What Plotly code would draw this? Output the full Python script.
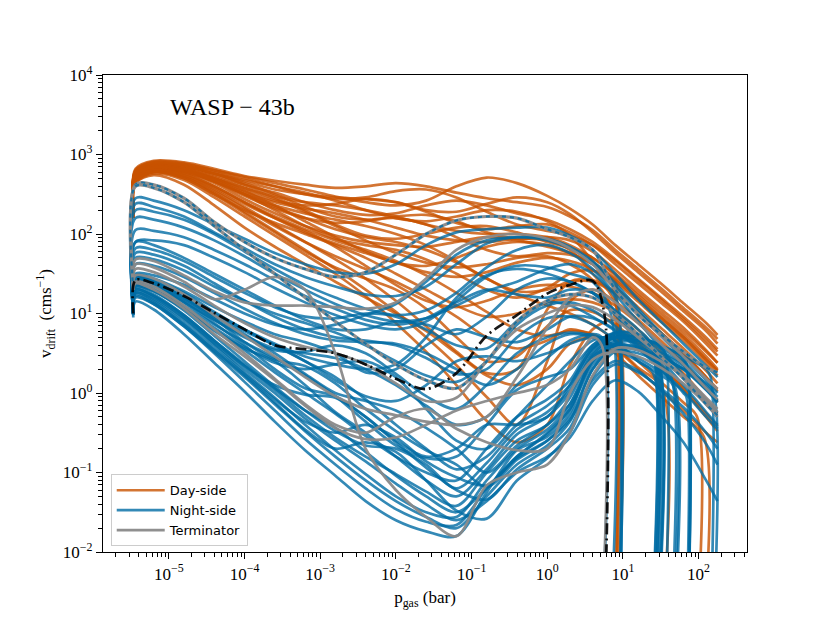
import numpy as np
import plotly.graph_objects as go

log_p = [-5.47, -5.44, -5.2, -4.8, -4.4, -4.0, -3.6, -3.2, -2.8, -2.4, -2.0,
         -1.6, -1.2, -0.8, -0.4, 0.0, 0.3, 0.6, 0.9, 1.2, 1.5, 1.8, 2.1, 2.25]

# decade exponents labelled on each axis
x_decades = [-5, -4, -3, -2, -1, 0, 1, 2]
y_decades = [-2, -1, 0, 1, 2, 3, 4]

# log10 v_drift [cm/s]; shorter rows end in a drop to zero at (log p, log v) given in *_cut
day_v = [
    [2.40, 2.80, 2.90, 2.88, 2.80, 2.72, 2.64, 2.56, 2.47, 2.40, 2.36, 2.42, 2.60, 2.71, 2.64, 2.48, 2.32, 2.12, 1.86, 1.62, 1.38, 1.13, 0.88, 0.73],
    [2.40, 2.82, 2.92, 2.90, 2.82, 2.73, 2.67, 2.62, 2.58, 2.60, 2.64, 2.60, 2.52, 2.45, 2.40, 2.34, 2.22, 2.05, 1.80, 1.56, 1.32, 1.07, 0.82, 0.68],
    [2.35, 2.78, 2.88, 2.87, 2.78, 2.66, 2.56, 2.50, 2.46, 2.44, 2.40, 2.30, 2.28, 2.38, 2.46, 2.40, 2.25, 2.02, 1.76, 1.52, 1.28, 1.03, 0.78, 0.62],
    [2.30, 2.76, 2.86, 2.84, 2.74, 2.62, 2.52, 2.40, 2.30, 2.24, 2.26, 2.36, 2.42, 2.36, 2.26, 2.18, 2.06, 1.90, 1.68, 1.44, 1.20, 0.96, 0.70, 0.55],
    [2.30, 2.75, 2.85, 2.82, 2.70, 2.55, 2.42, 2.36, 2.38, 2.44, 2.40, 2.28, 2.14, 2.06, 2.10, 2.12, 2.02, 1.86, 1.62, 1.38, 1.14, 0.90, 0.62, 0.47],
    [2.30, 2.74, 2.84, 2.80, 2.66, 2.48, 2.32, 2.20, 2.14, 2.16, 2.22, 2.24, 2.16, 2.02, 1.94, 1.96, 1.92, 1.78, 1.55, 1.30, 1.06, 0.82, 0.54, 0.38],
    [2.30, 2.72, 2.83, 2.80, 2.70, 2.58, 2.46, 2.30, 2.12, 1.98, 1.94, 2.00, 2.08, 2.10, 2.02, 1.90, 1.82, 1.70, 1.48, 1.23, 0.98, 0.74, 0.46, 0.30],
    [2.25, 2.70, 2.82, 2.78, 2.64, 2.44, 2.26, 2.10, 1.98, 1.90, 1.86, 1.84, 1.90, 1.96, 1.92, 1.84, 1.76, 1.62, 1.40, 1.15, 0.90, 0.66, 0.38, 0.22],
    [2.25, 2.70, 2.80, 2.76, 2.60, 2.40, 2.20, 2.02, 1.88, 1.76, 1.64, 1.52, 1.46, 1.52, 1.64, 1.70, 1.66, 1.55, 1.33, 1.08, 0.82, 0.56, 0.28, 0.12],
    [2.25, 2.68, 2.80, 2.74, 2.56, 2.34, 2.12, 1.90, 1.68, 1.44, 1.16, 0.84, 0.52, 0.25, 0.30, 1.05, 1.40, 1.42, 1.26, 1.02, 0.76, 0.50, 0.20, 0.02],
    [2.20, 2.66, 2.78, 2.72, 2.52, 2.28, 2.04, 1.80, 1.56, 1.30, 1.02, 0.70, 0.35, -0.05, -0.40, 0.40, 1.15, 1.30, 1.15, 0.92, 0.66, 0.38, 0.06, -0.12],
    [2.20, 2.66, 2.78, 2.70, 2.50, 2.30, 2.14, 2.00, 1.86, 1.70, 1.50, 1.30, 1.10, 0.96, 1.00, 1.14, 1.18, 1.14, 1.02, 0.80, 0.52, 0.25, -0.08, -0.25],
    [2.20, 2.64, 2.76, 2.68, 2.46, 2.22, 1.98, 1.74, 1.50, 1.22, 0.88, 0.52, 0.10, -0.35, -0.62, -0.40, 0.35, 0.80, 0.92, 0.66, 0.36, 0.05, -0.30, -0.48],
    [2.35, 2.78, 2.88, 2.85, 2.76, 2.68, 2.60, 2.52, 2.42, 2.30, 2.20, 2.16, 2.22, 2.30, 2.28, 2.16, 1.98, 1.66],
    [2.30, 2.74, 2.84, 2.80, 2.68, 2.52, 2.40, 2.32, 2.26, 2.18, 2.08, 1.98, 1.92, 1.90, 1.94, 1.92, 1.80, 1.50],
    [2.25, 2.70, 2.82, 2.76, 2.60, 2.40, 2.22, 2.06, 1.92, 1.80, 1.66, 1.48, 1.26, 1.02, 0.80, 0.72, 0.78, 0.74, 0.58, 0.32],
    [2.30, 2.72, 2.82, 2.78, 2.66, 2.50, 2.34, 2.20, 2.06, 1.96, 1.90, 1.80, 1.64, 1.44, 1.24, 1.10, 1.00, 0.86, 0.66, 0.40, 0.14, -0.12],
    [2.20, 2.66, 2.78, 2.72, 2.54, 2.32, 2.10, 1.90, 1.72, 1.56, 1.40, 1.20, 0.96, 0.70, 0.56, 0.66, 0.80, 0.72, 0.50, 0.22, -0.04, -0.30],
    [2.35, 2.80, 2.91, 2.89, 2.80, 2.70, 2.60, 2.50, 2.44, 2.46, 2.54, 2.56, 2.46, 2.28, 2.12, 2.04, 1.98, 1.86, 1.66, 1.42, 1.18, 0.93, 0.66, 0.52],
    [2.30, 2.76, 2.87, 2.85, 2.76, 2.64, 2.50, 2.34, 2.22, 2.18, 2.20, 2.12, 1.96, 1.80, 1.72, 1.76, 1.74, 1.64, 1.44, 1.20, 0.95, 0.70, 0.42, 0.28],
    [2.25, 2.72, 2.83, 2.79, 2.66, 2.50, 2.36, 2.26, 2.18, 2.10, 2.00, 1.86, 1.66, 1.44, 1.28, 1.30, 1.40, 1.40, 1.25, 1.01, 0.76, 0.50, 0.20, 0.05],
    [2.30, 2.78, 2.89, 2.86, 2.76, 2.62, 2.48, 2.40, 2.36, 2.30, 2.22, 2.12, 2.04, 2.00, 2.00, 1.96, 1.86, 1.70, 1.50, 1.26, 1.02, 0.78, 0.52, 0.38],
    [2.20, 2.64, 2.74, 2.62, 2.36, 2.08, 1.84, 1.62, 1.40, 1.20, 1.00, 0.78, 0.50, 0.22, 0.10, 0.30, 0.62, 0.70, 0.56, 0.30, 0.04, -0.22, -0.50, -0.62],
    [2.30, 2.74, 2.85, 2.82, 2.72, 2.58, 2.44, 2.28, 2.10, 1.92, 1.76, 1.64, 1.58, 1.62, 1.70, 1.72, 1.62, 1.42],
    [2.30, 2.76, 2.86, 2.82, 2.70, 2.54, 2.36, 2.16, 1.96, 1.78, 1.64, 1.60, 1.70, 1.84, 1.90, 1.86, 1.76, 1.62, 1.42, 1.18, 0.94, 0.70, 0.42, 0.28],
    [2.25, 2.70, 2.80, 2.74, 2.58, 2.38, 2.20, 2.04, 1.84, 1.60, 1.36, 1.16, 1.08, 1.16, 1.30, 1.36, 1.34, 1.26, 1.10, 0.88, 0.62, 0.36, 0.06, -0.10],
    [2.30, 2.74, 2.84, 2.80, 2.68, 2.50, 2.30, 2.10, 1.94, 1.86, 1.80, 1.68, 1.50, 1.30, 1.20, 1.32, 1.50, 1.54, 1.40],
    [2.20, 2.66, 2.78, 2.70, 2.50, 2.26, 2.02, 1.78, 1.58, 1.44, 1.30, 1.06, 0.70, 0.40, 0.46, 0.84, 1.04, 1.02, 0.86, 0.62, 0.34, 0.06, -0.26, -0.42],
]
day_cut = [None] * 13 + [(0.86, 1.35), (0.91, 1.10), (1.52, 0.05), (1.98, -0.30), (2.07, -0.55)] \
          + [None] * 5 + [(0.88, 1.00), None, None, (0.92, 1.20), None]

night_v = [
    [1.10, 2.45, 2.42, 2.30, 2.12, 1.94, 1.76, 1.62, 1.52, 1.50, 1.62, 1.86, 2.02, 2.06, 2.08, 2.08, 1.98, 1.80, 1.50, 1.18, 0.90, 0.62, 0.34, 0.20],
    [1.10, 2.38, 2.34, 2.22, 2.02, 1.82, 1.62, 1.46, 1.34, 1.24, 1.22, 1.34, 1.62, 1.88, 1.96, 1.94, 1.84, 1.66, 1.38, 1.06, 0.76, 0.46, 0.16, 0.00],
    [1.05, 2.30, 2.28, 2.18, 2.00, 1.78, 1.56, 1.36, 1.20, 1.06, 0.98, 1.04, 1.26, 1.58, 1.80, 1.86, 1.76, 1.56, 1.24, 0.90, 0.56, 0.22, -0.14, -0.30],
    [1.05, 2.20, 2.18, 2.08, 1.92, 1.72, 1.50, 1.30, 1.12, 0.98, 0.90, 0.94, 1.10, 1.28, 1.40, 1.56, 1.62, 1.50, 1.20],
    [1.00, 2.05, 2.04, 1.96, 1.80, 1.62, 1.42, 1.22, 1.06, 0.92, 0.86, 0.94, 1.14, 1.30, 1.24, 1.20, 1.30, 1.26, 1.02, 0.72, 0.42, 0.10, -0.24, -0.40],
    [1.00, 1.90, 1.92, 1.86, 1.70, 1.52, 1.32, 1.14, 0.98, 0.86, 0.80, 0.90, 1.16, 1.46, 1.60, 1.58, 1.50, 1.40],
    [1.00, 1.90, 1.86, 1.70, 1.50, 1.30, 1.10, 0.92, 0.80, 0.80, 0.90, 0.86, 0.74, 0.96, 1.30, 1.44, 1.40, 1.26, 0.98, 0.70],
    [1.00, 1.82, 1.80, 1.66, 1.46, 1.26, 1.08, 0.96, 0.94, 1.00, 0.96, 0.80, 0.60, 0.56, 0.90, 1.14, 1.10, 0.96, 0.78, 0.56, 0.30, 0.02, -0.30, -0.45],
    [1.00, 1.76, 1.74, 1.60, 1.38, 1.16, 0.96, 0.80, 0.70, 0.66, 0.60, 0.44, 0.24, 0.30, 0.70, 0.94, 0.96, 0.86, 0.66, 0.40],
    [1.00, 1.70, 1.68, 1.54, 1.34, 1.16, 1.00, 0.88, 0.76, 0.60, 0.40, 0.22, 0.14, 0.40, 0.86, 1.10, 1.14, 1.04, 0.84, 0.58, 0.30, 0.00],
    [1.00, 1.62, 1.60, 1.46, 1.26, 1.06, 0.88, 0.74, 0.66, 0.64, 0.62, 0.50, 0.30, 0.10, 0.30, 0.62, 0.74, 0.70, 0.56, 0.40, 0.22],
    [0.95, 1.15, 1.05, 0.74, 0.38, 0.02, -0.36, -0.72, -1.04, -1.36, -1.60, -1.74, -1.80, -1.25, -0.72, -0.55, -0.25, 0.48, 0.70, 0.66],
    [0.98, 1.20, 1.12, 0.84, 0.50, 0.14, -0.22, -0.58, -0.90, -1.20, -1.46, -1.62, -1.66, -1.20, -0.80, -0.52, -0.20, 0.40, 0.62, 0.56, 0.46, 0.30, 0.04, -0.10],
    [1.00, 1.26, 1.18, 0.92, 0.60, 0.26, -0.06, -0.40, -0.72, -1.02, -1.30, -1.50, -1.56, -1.10, -0.70, -0.46, -0.14, 0.44, 0.70, 0.70, 0.58],
    [1.00, 1.30, 1.22, 0.98, 0.66, 0.34, 0.04, -0.28, -0.56, -0.80, -1.02, -1.24, -1.42, -1.00, -0.60, -0.40, -0.06, 0.50, 0.72, 0.70, 0.60, 0.44],
    [1.00, 1.34, 1.28, 1.04, 0.72, 0.40, 0.08, -0.22, -0.48, -0.66, -0.70, -0.90, -1.20, -0.88, -0.46, -0.24, 0.04, 0.54, 0.76, 0.74],
    [1.00, 1.38, 1.30, 1.06, 0.78, 0.56, 0.40, 0.10, -0.24, -0.50, -0.80, -1.10, -1.30, -0.96, -0.52, -0.30, 0.00, 0.46, 0.60, 0.54, 0.40, 0.20, -0.10, -0.25],
    [1.05, 1.42, 1.36, 1.14, 0.88, 0.60, 0.30, 0.06, -0.04, -0.30, -0.62, -0.94, -1.22, -1.34, -0.96, -0.70, -0.44, 0.20, 0.52, 0.50, 0.36],
    [1.05, 1.46, 1.40, 1.20, 0.94, 0.64, 0.42, 0.34, 0.12, -0.20, -0.48, -0.72, -0.90, -1.18, -0.84, -0.60, -0.30, 0.30, 0.62, 0.64],
    [1.00, 1.45, 1.42, 1.26, 1.02, 0.80, 0.60, 0.40, 0.20, -0.08, -0.40, -0.70, -0.96, -0.80, -0.40, -0.16, 0.10, 0.56, 0.74],
    [0.98, 1.40, 1.36, 1.18, 0.96, 0.74, 0.50, 0.24, 0.00, -0.10, -0.22, -0.44, -0.70, -1.00, -0.66, -0.40, -0.14, 0.40, 0.66, 0.66, 0.56, 0.40, 0.10, -0.05],
    [0.98, 1.24, 1.14, 0.86, 0.54, 0.22, -0.12, -0.46, -0.70, -0.62, -0.74, -1.10, -1.48, -1.58, -1.10, -0.82, -0.50, 0.10, 0.36, 0.26, 0.06, -0.18, -0.50, -0.70],
    [1.00, 1.32, 1.24, 0.98, 0.66, 0.36, 0.06, -0.22, -0.44, -0.74, -1.04, -1.30, -1.50, -1.20, -0.82, -0.60, -0.34, 0.16, 0.40, 0.28, 0.04, -0.26, -0.64, -0.90],
    [1.00, 1.28, 1.20, 0.94, 0.62, 0.30, 0.00, -0.32, -0.60, -0.86, -1.14, -1.40, -1.60, -1.36, -1.00, -0.80, -0.56, -0.10, 0.16, 0.02, -0.28, -0.62, -1.10, -1.36],
    [1.00, 1.36, 1.30, 1.10, 0.86, 0.64, 0.44, 0.22, -0.04, -0.36, -0.66, -0.82, -0.80, -0.40, 0.04, 0.20, 0.30, 0.60, 0.76, 0.72],
    [1.05, 1.40, 1.34, 1.14, 0.92, 0.72, 0.56, 0.50, 0.44, 0.30, 0.10, -0.16, -0.40, -0.30, 0.10, 0.44, 0.66, 0.74],
    [1.00, 1.34, 1.28, 1.06, 0.80, 0.54, 0.26, 0.00, -0.26, -0.54, -0.80, -1.00, -1.10, -0.70, -0.30, -0.08, 0.16, 0.60, 0.74, 0.70, 0.60, 0.46, 0.30],
    [1.00, 1.22, 1.12, 0.84, 0.52, 0.20, -0.14, -0.48, -0.80, -1.10, -1.36, -1.56, -1.70, -1.30, -0.90, -0.66, -0.36, 0.30, 0.56, 0.54, 0.44, 0.30, 0.12],
    [1.00, 1.44, 1.40, 1.22, 1.00, 0.80, 0.62, 0.46, 0.36, 0.30, 0.36, 0.70, 1.20, 1.48, 1.56, 1.50, 1.40, 1.26, 1.04, 0.80],
    [1.00, 1.50, 1.48, 1.36, 1.18, 1.00, 0.86, 0.80, 0.86, 0.98, 1.12, 1.40, 1.74, 1.92, 1.96, 1.92, 1.82, 1.64, 1.34, 1.02, 0.72, 0.42],
    [1.00, 1.40, 1.36, 1.16, 0.92, 0.70, 0.54, 0.52, 0.60, 0.50, 0.24, -0.04, -0.20, 0.10, 0.50, 0.70, 0.76, 0.72, 0.60, 0.44, 0.26],
    [1.00, 1.36, 1.30, 1.08, 0.82, 0.58, 0.38, 0.30, 0.36, 0.40, 0.20, -0.20, -0.60, -0.70, -0.30, 0.10, 0.40, 0.66, 0.70, 0.62, 0.50, 0.34, 0.06, -0.10],
    [1.02, 1.42, 1.38, 1.20, 0.98, 0.78, 0.60, 0.40, 0.16, -0.04, -0.10, 0.10, 0.40, 0.46, 0.40, 0.50, 0.62, 0.70, 0.66],
    [1.00, 1.30, 1.22, 0.96, 0.64, 0.34, 0.10, -0.02, -0.06, -0.30, -0.60, -0.80, -0.70, -0.40, -0.40, -0.30, 0.10, 0.56, 0.70, 0.66, 0.52, 0.36],
    [1.00, 1.48, 1.44, 1.28, 1.08, 0.90, 0.74, 0.64, 0.50, 0.26, 0.30, 0.60, 0.80, 0.70, 0.64, 0.80, 0.96, 0.94, 0.80, 0.60],
    [1.00, 1.26, 1.16, 0.88, 0.56, 0.24, -0.08, -0.36, -0.50, -0.40, -0.56, -0.86, -1.06, -1.16, -0.80, -0.50, -0.20, 0.36, 0.60, 0.58, 0.46, 0.30, 0.04, -0.12],
]
night_cut = [None, None, None, (0.95, 1.05), None, (0.84, 1.00), (1.42, 0.50), None,
             (1.40, 0.25), (1.84, -0.05), (1.66, 0.10), (1.40, 0.55), None, (1.56, 0.50),
             (1.86, 0.30), (1.38, 0.60), None, (1.64, 0.20), (1.44, 0.50), (0.95, 0.70),
             None, None, None, None, (1.46, 0.45), (0.72, 0.70), (2.16, 0.20), (2.20, 0.00),
             (1.38, 0.60), (1.86, 0.30), (1.68, 0.10), None, (0.96, 0.50), (1.86, 0.20),
             (1.45, 0.40), None]

term_v = [
    [1.35, 1.68, 1.66, 1.48, 1.28, 1.14, 1.10, 1.10, 1.08, 1.06, 1.14, 1.44, 1.80, 1.96, 2.00, 1.94, 1.82, 1.62, 1.30, 1.00, 0.72, 0.46, 0.18, 0.05],
    [1.30, 1.40, 1.34, 1.10, 0.80, 0.50, 0.18, -0.14, -0.40, -0.50, -0.30, -0.20, -0.45, -0.62, -0.72, -0.70, 0.00, 0.42, 0.52, 0.46, 0.32, 0.12, -0.14, -0.30],
    [1.30, 1.62, 1.58, 1.40, 1.18, 1.30, 1.46, 1.30, 0.50, -0.70, -1.22, -1.56, -1.80, -1.16, -1.00, -0.90, -0.50, 0.22, 0.56, 0.54, 0.40, 0.22, -0.06, -0.20],
    [1.30, 1.38, 1.30, 1.06, 0.74, 0.46, 0.16, -0.16, -0.44, -0.58, -0.56, -0.40, -0.22, -0.10, 0.00, 0.10, 0.30, 0.70],
    [1.35, 1.56, 1.52, 1.34, 1.10, 0.88, 0.70, 0.58, 0.50, 0.36, 0.12, -0.10, -0.06, 0.40, 0.80, 1.00, 1.10, 1.08, 0.92, 0.70, 0.46, 0.20, -0.10, -0.24],
    [1.30, 1.48, 1.44, 1.24, 0.98, 0.72, 0.46, 0.20, -0.04, -0.20, -0.28, -0.36, -0.40, -0.30, 0.20, 0.82, 1.20, 1.30, 1.14, 0.88, 0.62, 0.36, 0.06, -0.08],
]
term_cut = [None, None, None, (0.72, 0.60), None, None]

# terminator profiles drawn with a dashed night-side overlay
dashed_v = [
    [1.40, 2.62, 2.62, 2.45, 2.15, 1.90, 1.70, 1.56, 1.46, 1.52, 1.74, 2.00, 2.17, 2.22, 2.20, 2.06, 1.96, 1.80, 1.30, 0.98, 0.74, 0.52, 0.32, 0.26],
    [1.30, 2.60, 2.58, 2.40, 2.10, 1.80, 1.50, 1.20, 0.90, 0.62, 0.36, 0.16, 0.06, 0.40, 0.90, 1.16, 1.24, 1.20, 1.00, 0.74, 0.46, 0.18, -0.14, -0.28],
]

# mean profile (black dash-dot)
mean_v = [1.00, 1.42, 1.38, 1.22, 1.01, 0.80, 0.60, 0.55, 0.50, 0.36, 0.18, 0.05, 0.25, 0.72, 0.98, 1.25, 1.36, 1.41]
mean_cut = (0.754, 1.00)

DAY = "rgba(200,82,0,0.8)"
NIGHT = "rgba(0,107,164,0.8)"
TERM = "rgba(137,137,137,0.95)"
SERIF = "Liberation Serif"


def profile(vals, cut):
    lp = log_p[:len(vals)]
    lv = list(vals)
    if cut is not None:
        lp = lp + [cut[0], cut[0]]
        lv = lv + [cut[1], -3.0]
    return 10 ** np.array(lp), 10 ** np.array(lv)


def decade_ticks(decades):
    vals = [10.0 ** k for k in decades]
    text = ["10<sup>%s</sup>" % str(k).replace("-", "−") for k in decades]
    minor = [m * 10.0 ** k for k in range(decades[0] - 1, decades[-1] + 1) for m in range(2, 10)]
    return vals, text, minor


fig = go.Figure()


def add(vals, cut, color, width, name=None, dash="solid"):
    x, y = profile(vals, cut)
    fig.add_trace(go.Scatter(
        x=x, y=y, mode="lines",
        line=dict(color=color, width=width, shape="spline", smoothing=0.9, dash=dash),
        name=name if name else "", showlegend=name is not None,
        hoverinfo="skip"))


for i, (v, c) in enumerate(zip(day_v, day_cut)):
    add(v, c, DAY, 2.7, "Day-side" if i == 0 else None)
for i, (v, c) in enumerate(zip(night_v, night_cut)):
    add(v, c, NIGHT, 2.7, "Night-side" if i == 0 else None)
for i, (v, c) in enumerate(zip(term_v, term_cut)):
    add(v, c, TERM, 2.7, "Terminator" if i == 0 else None)
for v in dashed_v:
    add(v, None, TERM, 3.2)
    add(v, None, NIGHT, 2.2, dash="4px,4px")
add(mean_v, mean_cut, "rgba(0,0,0,0.9)", 2.7, dash="11px,4px,2px,4px")

fig.add_annotation(text="WASP − 43b", x=0.101, y=0.933, xref="paper", yref="paper",
                   xanchor="left", yanchor="middle", showarrow=False,
                   font=dict(family=SERIF, size=24, color="black"))


def axis_style(decades, rng, title, standoff):
    vals, text, minor = decade_ticks(decades)
    return dict(type="log", range=rng, tickmode="array", tickvals=vals, ticktext=text,
                showgrid=False, zeroline=False, showline=True, linecolor="black",
                linewidth=1.3, mirror=True, ticks="outside", ticklen=6, tickwidth=1.3,
                tickcolor="black", automargin=False,
                minor=dict(tickmode="array", tickvals=minor, ticks="outside", ticklen=3.5,
                           tickwidth=1, tickcolor="black", showgrid=False),
                tickfont=dict(family=SERIF, size=17, color="black"),
                title=dict(text=title, standoff=standoff,
                           font=dict(family=SERIF, size=17, color="black")))


# the page body adds an 8 px offset, so margins are shifted to land the axes where the reference has them
fig.update_layout(
    width=830, height=623,
    margin=dict(l=95, r=91, t=67, b=79),
    paper_bgcolor="white", plot_bgcolor="white",
    xaxis=axis_style(x_decades, [-5.87, 2.64], "p<sub>gas</sub> (bar)", 8),
    yaxis=axis_style(y_decades, [-2, 4], "v<sub>drift</sub>  (cms<sup>−1</sup>)", 6),
    legend=dict(x=0.012, y=0.012, xanchor="left", yanchor="bottom",
                bgcolor="rgba(255,255,255,0.8)", bordercolor="#cccccc", borderwidth=1,
                font=dict(family="DejaVu Sans", size=13, color="black"),
                itemwidth=48, tracegroupgap=0),
)

fig.write_html("out.html")
